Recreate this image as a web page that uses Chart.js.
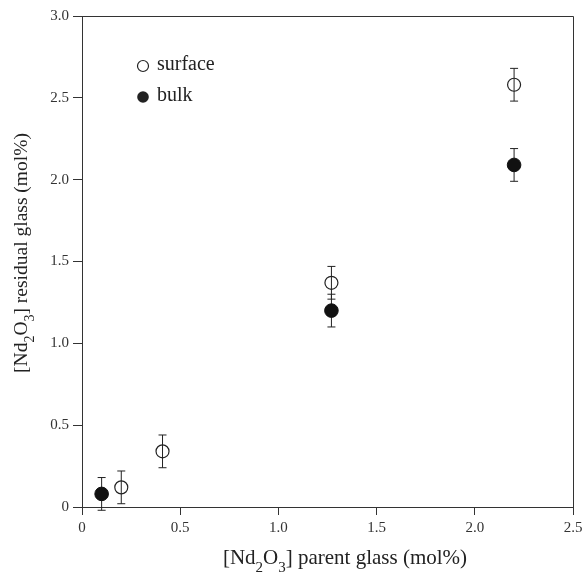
<!DOCTYPE html>
<html>
<head>
<meta charset="utf-8">
<script src="https://cdn.jsdelivr.net/npm/chart.js@4/dist/chart.umd.min.js"></script>
<style>
  html, body { margin: 0; padding: 0; background: #fff; }
  #wrap { width: 583px; height: 573px; }
</style>
</head>
<body>
<div id="wrap"><canvas id="c" width="583" height="573"></canvas></div>
<script>
// data
const seriesNames = ["surface", "bulk"];
const surfaceX = [0.2, 0.41, 1.27, 2.2];
const surfaceY = [0.12, 0.34, 1.37, 2.58];
const surfaceErr = [0.1, 0.1, 0.1, 0.1];
const bulkX = [0.1, 1.27, 2.2];
const bulkY = [0.08, 1.2, 2.09];
const bulkErr = [0.1, 0.1, 0.1];
const xTickLabels = ["0", "0.5", "1.0", "1.5", "2.0", "2.5"];
const yTickLabels = ["0", "0.5", "1.0", "1.5", "2.0", "2.5", "3.0"];
const xTitle = [["[Nd"], ["2", 1], ["O"], ["3", 1], ["] parent glass (mol%)"]];
const yTitle = [["[Nd"], ["2", 1], ["O"], ["3", 1], ["] residual glass (mol%)"]];

const SERIF = "'Liberation Serif', 'Times New Roman', serif";
const INK = "#222";

// draw text with subscripts, centred on cx, baseline at y
function drawRich(ctx, parts, cx, y, size) {
    const subSize = Math.round(size * 0.7);
    let w = 0;
    parts.forEach(p => {
        ctx.font = (p[1] ? subSize : size) + "px " + SERIF;
        w += ctx.measureText(p[0]).width;
    });
    let x = cx - w / 2;
    ctx.textBaseline = "alphabetic";
    ctx.textAlign = "left";
    parts.forEach(p => {
        ctx.font = (p[1] ? subSize : size) + "px " + SERIF;
        ctx.fillText(p[0], x, p[1] ? y + size * 0.38 : y);
        x += ctx.measureText(p[0]).width;
    });
}

const decor = {
    id: "decor",
    beforeDatasetsDraw(chart) {
        // error bars under the markers
        const ctx = chart.ctx, xs = chart.scales.x, ys = chart.scales.y;
        ctx.save();
        ctx.strokeStyle = INK;
        ctx.lineWidth = 1;
        const bars = (X, Y, E) => X.forEach((v, i) => {
            const px = xs.getPixelForValue(v);
            const top = ys.getPixelForValue(Y[i] + E[i]);
            const bot = ys.getPixelForValue(Y[i] - E[i]);
            ctx.beginPath();
            ctx.moveTo(px, top); ctx.lineTo(px, bot);
            ctx.moveTo(px - 4, top); ctx.lineTo(px + 4, top);
            ctx.moveTo(px - 4, bot); ctx.lineTo(px + 4, bot);
            ctx.stroke();
        });
        bars(surfaceX, surfaceY, surfaceErr);
        bars(bulkX, bulkY, bulkErr);
        ctx.restore();
    },
    afterDraw(chart) {
        const ctx = chart.ctx, a = chart.chartArea;
        ctx.save();
        // frame top and right
        ctx.strokeStyle = "#333";
        ctx.lineWidth = 1;
        ctx.beginPath();
        ctx.moveTo(a.left, a.top + 0.5); ctx.lineTo(a.right + 0.5, a.top + 0.5);
        ctx.lineTo(a.right + 0.5, a.bottom);
        ctx.stroke();

        // legend
        ctx.fillStyle = INK;
        ctx.strokeStyle = INK;
        ctx.lineWidth = 1.2;
        ctx.beginPath(); ctx.arc(143, 66, 5.5, 0, Math.PI * 2); ctx.stroke();
        ctx.beginPath(); ctx.arc(143, 97, 5.8, 0, Math.PI * 2); ctx.fill();
        ctx.font = "20px " + SERIF;
        ctx.textBaseline = "middle";
        ctx.fillText(seriesNames[0], 157, 65);
        ctx.fillText(seriesNames[1], 157, 96);

        // axis titles
        ctx.fillStyle = INK;
        drawRich(ctx, xTitle, 345, 564, 21);
        ctx.translate(27, 253);
        ctx.rotate(-Math.PI / 2);
        drawRich(ctx, yTitle, 0, 0, 19.5);
        ctx.restore();
    }
};

new Chart(document.getElementById("c"), {
    type: "scatter",
    data: {
        datasets: [
            {
                label: seriesNames[0],
                data: surfaceX.map((x, i) => ({ x: x, y: surfaceY[i] })),
                pointRadius: 6.5,
                pointBackgroundColor: "rgba(0,0,0,0)",
                pointBorderColor: INK,
                pointBorderWidth: 1.2
            },
            {
                label: seriesNames[1],
                data: bulkX.map((x, i) => ({ x: x, y: bulkY[i] })),
                pointRadius: 6.8,
                pointBackgroundColor: "#111",
                pointBorderColor: "#111",
                pointBorderWidth: 1
            }
        ]
    },
    options: {
        responsive: false,
        animation: false,
        layout: { padding: { top: 16, right: 10, left: 0, bottom: 0 } },
        plugins: { legend: { display: false }, tooltip: { enabled: false } },
        scales: {
            x: {
                type: "linear", min: 0, max: 2.5,
                afterFit: s => { s.height = 66; s.paddingLeft = 0; s.paddingRight = 0; },
                afterBuildTicks: s => { s.ticks = xTickLabels.map((t, i) => ({ value: i * 0.5 })); },
                ticks: {
                    callback: (v, i) => xTickLabels[i],
                    font: { family: SERIF, size: 15 },
                    color: "#333",
                    padding: 4,
                    maxRotation: 0
                },
                grid: { drawOnChartArea: false, tickLength: 8, color: "#333" },
                border: { color: "#333", width: 1 }
            },
            y: {
                type: "linear", min: 0, max: 3,
                afterFit: s => { s.width = 82; s.paddingTop = 0; s.paddingBottom = 0; },
                afterBuildTicks: s => { s.ticks = yTickLabels.map((t, i) => ({ value: i * 0.5 })); },
                ticks: {
                    callback: (v, i) => yTickLabels[i],
                    font: { family: SERIF, size: 15 },
                    color: "#333",
                    padding: 4
                },
                grid: { drawOnChartArea: false, tickLength: 9, color: "#333" },
                border: { color: "#333", width: 1 }
            }
        }
    },
    plugins: [decor]
});
</script>
</body>
</html>
